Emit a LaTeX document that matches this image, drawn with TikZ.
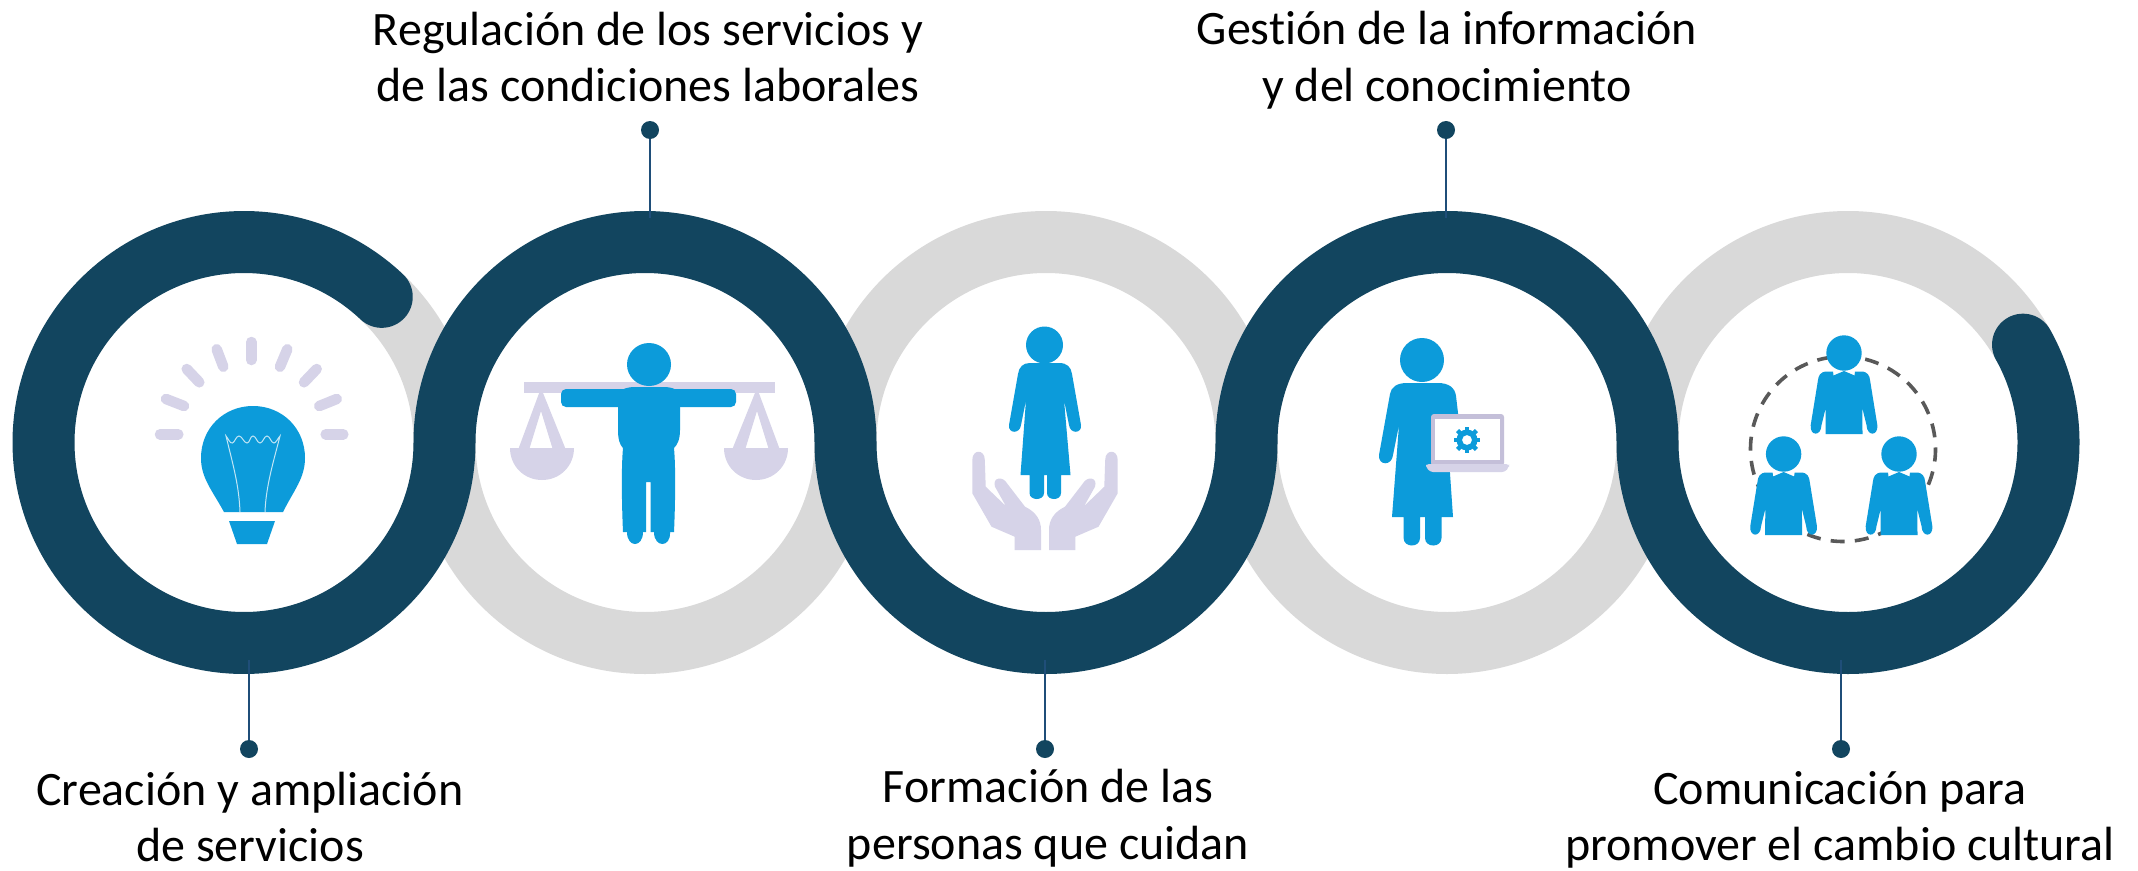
\documentclass[tikz,border=0pt]{standalone}
\usepackage{fontspec}
\setmainfont{Carlito}[Ligatures=NoCommon]
\definecolor{ringdark}{HTML}{12455F}
\definecolor{ringgrey}{HTML}{D9D9D9}
\definecolor{iconblue}{HTML}{0C9BDA}
\definecolor{lav}{HTML}{D6D3E8}
\definecolor{lavdark}{HTML}{C4BFD9}
\definecolor{stemc}{HTML}{1F4E79}
\tikzset{
  ringdk/.style={draw=ringdark,line width=62pt,line cap=round},
  ringgr/.style={draw=ringgrey,line width=62pt},
  dotn/.style={circle,fill=ringdark,minimum size=18pt,inner sep=0pt},
  stem/.style={draw=stemc,line width=2.6pt},
  label/.style={align=center,font=\fontsize{48}{56.5}\selectfont,text=black,inner sep=0pt},
  ray/.style={draw=lav,line width=10.5pt,line cap=round}
}
\newcommand{\personicon}[2]{%
  \begin{scope}[shift={(#1,#2)}]
    \fill[iconblue] (0,0) circle[radius=17.7];
    \fill[iconblue] (-11,18.5) -- (-17,18.5) .. controls (-24,18.5) and (-25.5,23) .. (-26,27) -- (-33.3,72)
      .. controls (-34.5,83) and (-23,84) .. (-22.5,72) -- (-18.3,55) -- (-18.5,81) -- (18.5,81) -- (18.3,55) -- (22.5,72)
      .. controls (23,84) and (34.5,83) .. (33.3,72) -- (26,27) .. controls (25.5,23) and (24,18.5) .. (17,18.5) -- (11,18.5)
      -- (10.5,22.5) -- (0,18) -- (-10.5,22.5) -- cycle;
  \end{scope}}
\newcommand{\panicon}{%
  \fill[lav,even odd rule] (541,388) -- (518,450) -- (566,450) -- cycle (541,411) -- (529,450) -- (553,450) -- cycle;
  \fill[lav] (510,448) -- (574,448) .. controls (574,466) and (560,480) .. (542,480) .. controls (524,480) and (510,466) .. (510,448) -- cycle;}
\newcommand{\handicon}{%
  \fill[lav] (972.3,460) .. controls (972.3,449) and (984.8,449) .. (984.8,460) -- (985.7,486.7) -- (1005.8,506) -- (995,486.7)
    .. controls (992,477) and (1003,476) .. (1007,483.3) -- (1025,506.7) .. controls (1036,512) and (1041,520) .. (1041,530) -- (1041,550) -- (1014.7,550) -- (1014.7,536.7) -- (991.5,526.7) -- (972.3,493.3) -- cycle;}
\begin{document}
\begin{tikzpicture}[x=1pt,y=-1pt]
\useasboundingbox (0,0) rectangle (2138,870);
\fill[white] (0,0) rectangle (2138,870);
% grey arcs
\path[ringgr] (244,442.5) ++(46.6:200.5pt) arc[start angle=46.6,end angle=0,radius=200.5pt];
\path[ringgr] (645,442.5) ++(180:200.5pt) arc[start angle=180,end angle=360,radius=200.5pt];
\path[ringgr] (1046,442.5) ++(180:200.5pt) arc[start angle=180,end angle=0,radius=200.5pt];
\path[ringgr] (1447,442.5) ++(180:200.5pt) arc[start angle=180,end angle=360,radius=200.5pt];
\path[ringgr] (1848,442.5) ++(180:200.5pt) arc[start angle=180,end angle=29.2,radius=200.5pt];
% dark ribbon
\path[ringdk] (244,442.5) ++(46.6:200.5pt)
  arc[start angle=46.6,end angle=360,radius=200.5pt]
  arc[start angle=180,end angle=0,radius=200.5pt]
  arc[start angle=180,end angle=360,radius=200.5pt]
  arc[start angle=180,end angle=0,radius=200.5pt]
  arc[start angle=180,end angle=389.2,radius=200.5pt];
% dots, stems, labels
\node[dotn] (d1) at (249,749) {};
\node[dotn] (d2) at (650,130) {};
\node[dotn] (d3) at (1045,749) {};
\node[dotn] (d4) at (1446,130) {};
\node[dotn] (d5) at (1841,749) {};
\coordinate (r1) at (249,660);
\coordinate (r2) at (650,218);
\coordinate (r3) at (1045,660);
\coordinate (r4) at (1446,218);
\coordinate (r5) at (1841,660);
\draw[stem] (d1) -- (r1);
\draw[stem] (d2) -- (r2);
\draw[stem] (d3) -- (r3);
\draw[stem] (d4) -- (r4);
\draw[stem] (d5) -- (r5);
\node[label] (t1) at (250,817) {Creación y ampliación\\de servicios};
\node[label] (t2) at (648,57) {Regulación de los servicios y\\de las condiciones laborales};
\node[label] (t3) at (1048,818) {Formación de las\\personas que cuidan};
\node[label] (t4) at (1447,60) {Gestión de la información\\y del conocimiento};
\node[label] (t5) at (1840,820) {Comunicación para\\promover el cambio cultural};
% bulb
\draw[ray] (251.3,342) -- (251.3,360);
\draw[ray] (216.7,349.3) -- (223.3,366.7);
\draw[ray] (186.7,369) -- (199.3,382.3);
\draw[ray] (166,399) -- (184,406);
\draw[ray] (160,434.3) -- (178.3,434.3);
\draw[ray] (287.3,349.3) -- (280,366.7);
\draw[ray] (316.7,369) -- (304,382.3);
\draw[ray] (336.7,399) -- (319.3,406);
\draw[ray] (343.3,434.3) -- (325.7,434.3);
\fill[iconblue] (224,512) .. controls (212,490) and (201,478) .. (201,458) .. controls (201,428) and (224,406) .. (253,406) .. controls (282,406) and (305,428) .. (305,458) .. controls (305,478) and (294,490) .. (283,512) -- cycle;
\fill[iconblue] (229,521) -- (275,521) -- (267,544) -- (237,544) -- cycle;
\draw[white,opacity=.75,line width=1pt] (240,512) .. controls (239,485) and (233,465) .. (226,436)
  .. controls (228,438) and (230,444) .. (232.5,443) .. controls (235,442) and (236,436) .. (239,436)
  .. controls (242,436) and (244,443) .. (247,443) .. controls (250,443) and (250,436) .. (253,436)
  .. controls (256,436) and (257,443) .. (260,443) .. controls (263,443) and (264,436) .. (267,436)
  .. controls (270,436) and (271,443) .. (274,443) .. controls (276,443) and (278,438) .. (280,436)
  .. controls (274,460) and (266,485) .. (265,512);
% scale figure
\fill[lav] (523.5,382) rectangle (775,393);
\panicon
\begin{scope}[shift={(1298,0)},xscale=-1]
\panicon
\end{scope}
\fill[iconblue] (649,364.5) ellipse[x radius=22,y radius=21.5];
\fill[iconblue,rounded corners=5pt] (561,389) rectangle (736,407);
\fill[iconblue] (635,387) -- (664,387) .. controls (672,387) and (680,390) .. (680,396) -- (680,430) .. controls (680,440) and (677,445) .. (674,448)
  .. controls (676,470) and (675,510) .. (674,532) -- (670,532) .. controls (671,548) and (654,548) .. (654,532)
  -- (650.5,532) -- (650.5,482) -- (646,482) -- (646,532) -- (643,532) .. controls (643,548) and (627,548) .. (627,532) -- (623,532)
  .. controls (622,510) and (621,470) .. (623,448) .. controls (620,445) and (618,440) .. (618,430) -- (618,396) .. controls (618,390) and (626,387) .. (635,387) -- cycle;
% woman with hands
\handicon
\begin{scope}[shift={(2090,0)},xscale=-1]
\handicon
\end{scope}
\fill[iconblue] (1044.5,345) ellipse[x radius=18.5,y radius=18.5];
\fill[iconblue] (1030,363) -- (1059,363) .. controls (1067,363) and (1071,367) .. (1072,374) -- (1081,425)
  .. controls (1082,434) and (1070,434) .. (1069,425) -- (1064,400) -- (1070.5,475) -- (1061,475) -- (1061,493)
  .. controls (1061,501) and (1047,501) .. (1047,493) -- (1047,475) -- (1044,475) -- (1044,493)
  .. controls (1044,501) and (1029.5,501) .. (1029.5,493) -- (1029.5,475) -- (1020.5,475) -- (1026,400) -- (1021,425)
  .. controls (1020,434) and (1008,434) .. (1009,425) -- (1018,374) .. controls (1019,367) and (1023,363) .. (1030,363) -- cycle;
% woman with laptop
\fill[iconblue] (1422,360) ellipse[x radius=22,y radius=22];
\fill[iconblue] (1407,383) -- (1438,383) .. controls (1449,383) and (1455,388) .. (1456,396) -- (1460,430) -- (1447,430) -- (1453,517) -- (1441.5,517) -- (1441.5,538)
  .. controls (1441.5,548) and (1425,548) .. (1425,538) -- (1425,517) -- (1420,517) -- (1420,538)
  .. controls (1420,548) and (1403.6,548) .. (1403.6,538) -- (1403.6,517) -- (1392,517) -- (1399,425) -- (1393,455)
  .. controls (1392,466) and (1378,466) .. (1379,455) -- (1390,394) .. controls (1391,387) and (1397,383) .. (1407,383) -- cycle;
\fill[lavdark,rounded corners=3pt] (1431,414) rectangle (1504,466);
\fill[white] (1435,419) rectangle (1499.6,460);
\fill[lav,rounded corners=3pt] (1426,464) -- (1509,464) -- (1509,467) -- (1505,472) -- (1430,472) -- (1426,467) -- cycle;
\fill[iconblue,even odd rule] (1467,440) circle[radius=5] (1467,440) circle[radius=10.5];
\foreach \a in {0,45,...,315}{
  \draw[iconblue,line width=4.5pt] (1467,440) ++(\a:8.5pt) -- ++(\a:4.8pt);
}
% group
\draw[draw=black!65,line width=3.6pt,dash pattern=on 14pt off 10.2pt] (1843,449) ++(60.9:92.5pt) arc[start angle=60.9,end angle=-299.1,radius=92.5pt];
\personicon{1844}{353}
\personicon{1783.6}{454}
\personicon{1899}{454}
\end{tikzpicture}
\end{document}
